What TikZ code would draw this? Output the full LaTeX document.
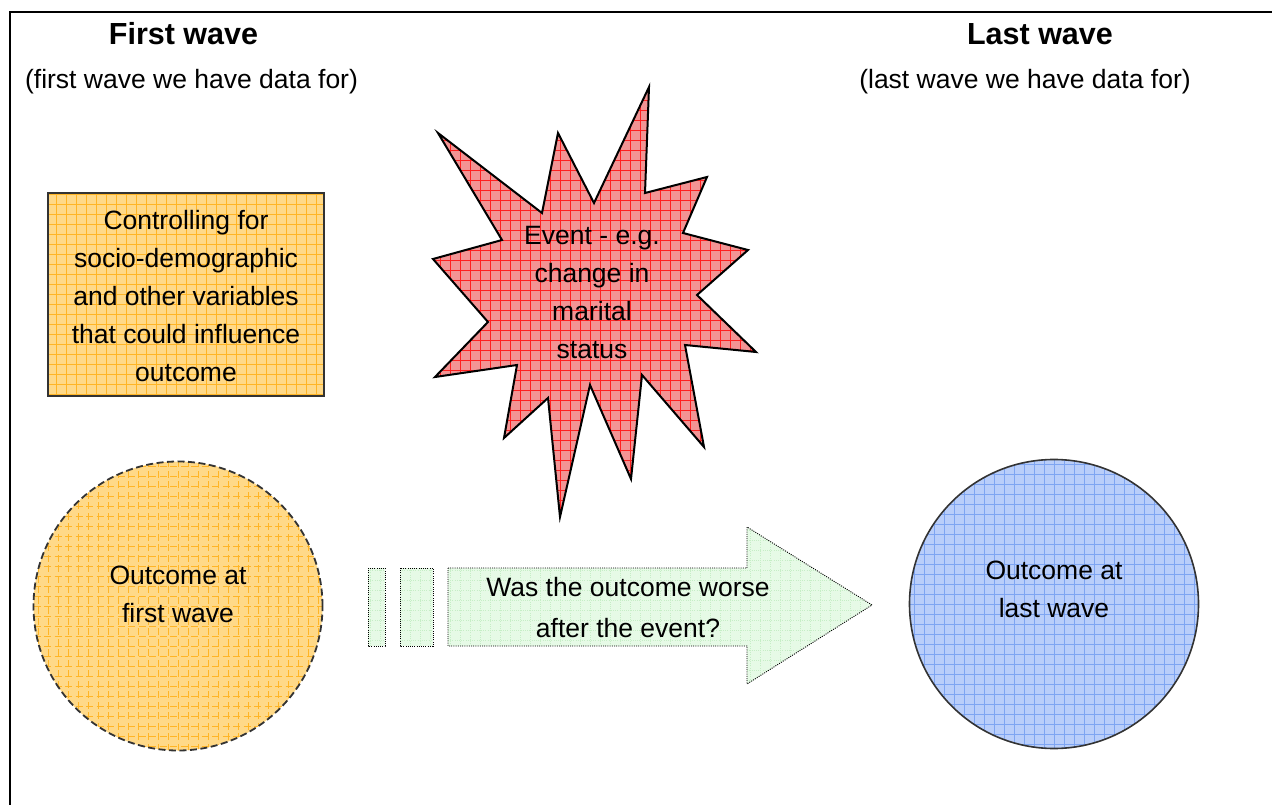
\documentclass[tikz,border=0pt]{standalone}
\usepackage{fontspec}
\setmainfont{Liberation Sans}
\definecolor{orfill}{HTML}{FFD988}
\definecolor{orgrid}{HTML}{FFB526}
\definecolor{rdfill}{HTML}{F39494}
\definecolor{rdgrid}{HTML}{FF2020}
\definecolor{blfill}{HTML}{B9CEFA}
\definecolor{blgrid}{HTML}{7EA5F2}
\definecolor{grfill}{HTML}{E6FAE6}
\definecolor{grgrid}{HTML}{C6EEC6}
\definecolor{edge}{HTML}{333333}
\tikzset{
  gridded/.style 2 args={fill=#1, path picture={\draw[#2, line width=0.5pt, step=10pt]
      (path picture bounding box.south west) grid (path picture bounding box.north east);}},
  body/.style={font=\fontsize{26.5}{38}\selectfont, align=center, inner sep=0pt},
  title/.style={font=\fontsize{30.5}{36}\selectfont\bfseries, inner sep=0pt, anchor=base},
  subtitle/.style={font=\fontsize{26.5}{32}\selectfont, inner sep=0pt, anchor=base},
  dotline/.style={draw=black, line width=0.9pt, dash pattern=on 1pt off 1.2pt},
}
\begin{document}
\begin{tikzpicture}[x=1pt,y=-1pt]
\useasboundingbox (0,0) rectangle (1272,805);
% frame
\draw[line width=2.6pt] (10,805) -- (10,12) -- (1272,12);
% titles
\node[title] (t1) at (183.5,45) {First wave};
\node[subtitle] (s1) at (191.5,89) {(first wave we have data for)};
\node[title] (t2) at (1040,45) {Last wave};
\node[subtitle] (s2) at (1025,89) {(last wave we have data for)};
% controlling box
\node[draw=edge, line width=1.3pt, gridded={orfill}{orgrid}, minimum width=276pt, minimum height=203pt, inner sep=0pt] (ctrl) at (186,294.5) {};
\node[body] (ctrltxt) at (186,296.5) {Controlling for\\socio-demographic\\and other variables\\that could influence\\outcome};
% event star
\draw[line width=2pt, line join=miter, gridded={rdfill}{rdgrid}]
 (438,133) -- (542,213) -- (558,133) -- (594,203) -- (649,87) -- (645,193) -- (707,177)
 -- (683,233) -- (748,250) -- (697,295) -- (756,352) -- (685,345) -- (704,447) -- (642,375)
 -- (631,479) -- (590,385) -- (560,517) -- (548,398) -- (504,438) -- (517,365) -- (435,377)
 -- (488,322) -- (433,259) -- (502,240) -- cycle;
\node[body] (event) at (592,293) {Event - e.g.\\change in\\marital\\status};
% first wave circle
\node[circle, draw=edge, line width=1.8pt, dash pattern=on 7pt off 3.5pt, gridded={orfill}{orgrid}, minimum size=289pt, inner sep=0pt] (first) at (178,606) {};
\node[body] (firsttxt) at (178,594) {Outcome at\\first wave};
% last wave circle
\node[circle, draw=edge, line width=1.6pt, gridded={blfill}{blgrid}, minimum size=289pt, inner sep=0pt] (last) at (1054,604) {};
\node[body] (lasttxt) at (1054,589) {Outcome at\\last wave};
% arrow
\path[dotline, gridded={grfill}{grgrid}] (368,568) rectangle (385,646);
\path[dotline, gridded={grfill}{grgrid}] (400,568) rectangle (433,646);
\path[dotline, gridded={grfill}{grgrid}] (448,568) -- (747,568) -- (747,527) -- (872,605) -- (747,684) -- (747,646) -- (448,646) -- cycle;
\node[body, font=\fontsize{26.5}{41}\selectfont] (q) at (628,608) {Was the outcome worse\\after the event?};
\end{tikzpicture}
\end{document}
